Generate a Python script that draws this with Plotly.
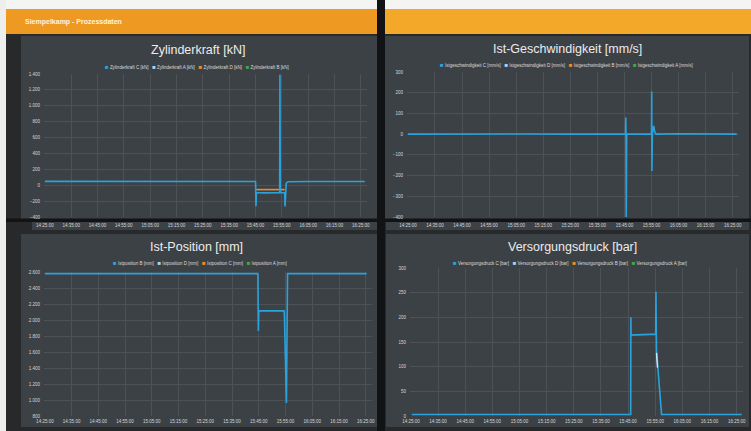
import plotly.graph_objects as go

W, H = 751, 431
DAY = "2017-03-14 "

# ---------------- data ----------------
# Zylinderkraft [kN]
kraft_c_t = ["14:25:00", "14:40:00", "14:55:00", "15:10:00", "15:25:00", "15:40:00",
             "15:45:00", "15:45:10", "15:45:20", "15:48:00", "15:51:00", "15:54:10",
             "15:54:16", "15:54:24", "15:56:05", "15:56:12", "15:56:40", "15:57:20",
             "16:05:00", "16:15:00", "16:26:30"]
kraft_c = [48, 46, 50, 47, 49, 47, 46, -265, -92, -96, -92, -95, 1390, -94, -95, -268,
           25, 44, 47, 48, 47]
kraft_d_t = ["15:45:15", "15:50:00", "15:56:05"]
kraft_d = [-55, -57, -55]

# Ist-Geschwindigkeit [mm/s]
speed_c_t = ["14:25:00", "14:40:00", "14:55:00", "15:10:00", "15:25:00", "15:45:25",
             "15:45:30", "15:45:35", "15:45:40", "15:45:50", "15:55:00", "15:55:05",
             "15:55:10", "15:55:20", "15:55:50", "15:56:10", "15:56:40", "16:05:00",
             "16:26:30"]
speed_c = [0, 1, -1, 1, 0, 0, 80, -12, -440, 0, 0, 206, -178, 5, 40, 12, 0, 2, 0]

# Ist-Position [mm]
pos_c_t = ["14:25:00", "14:55:00", "15:25:00", "15:44:30", "15:44:40", "15:44:50",
           "15:45:00", "15:54:25", "15:54:34", "15:55:20", "15:55:38", "15:55:45",
           "16:05:00", "16:25:20"]
pos_c = [2580, 2580, 2580, 2580, 2560, 1864, 2114, 2114, 2080, 963, 2050, 2580, 2580, 2580]

# Versorgungsdruck [bar]
druck_c_t = ["14:25:20", "14:45:00", "15:05:00", "15:25:00", "15:45:58", "15:46:02",
             "15:46:06", "15:55:10", "15:55:16", "15:55:28", "15:56:00", "15:56:40",
             "15:57:20", "16:10:00", "16:26:50"]
druck_c = [3, 3, 3, 3, 3, 200, 164, 166, 252, 134, 100, 40, 3, 3, 3]
druck_d_t = ["15:55:28", "15:55:50"]
druck_d = [128, 98]

titles = ["Zylinderkraft [kN]", "Ist-Geschwindigkeit [mm/s]",
          "Ist-Position [mm]", "Versorgungsdruck [bar]"]
legend_labels = [
    ["Zylinderkraft C [kN]", "Zylinderkraft A [kN]", "Zylinderkraft D [kN]", "Zylinderkraft B [kN]"],
    ["Istgeschwindigkeit C [mm/s]", "Istgeschwindigkeit D [mm/s]", "Istgeschwindigkeit B [mm/s]", "Istgeschwindigkeit A [mm/s]"],
    ["Istposition B [mm]", "Istposition D [mm]", "Istposition C [mm]", "Istposition A [mm]"],
    ["Versorgungsdruck C [bar]", "Versorgungsdruck D [bar]", "Versorgungsdruck B [bar]", "Versorgungsdruck A [bar]"],
]
header_text = "Siempelkamp - Prozessdaten"

# ---------------- style ----------------
BLUE = "#2aa3dd"
LIGHT = "#a9d3ef"
ORANGE = "#ef8c22"
GREEN = "#3dac47"
box_colors = [BLUE, LIGHT, ORANGE, GREEN]
FRAME = "#27292b"
CARD = "#3c4146"
SEAM = "#121314"
GRID = "#4d5257"
TXT = "#d4d7da"
FONT = "Liberation Sans, Arial, sans-serif"


def fx(p):
    return p / W


def fy(p):
    return 1 - p / H


panels = [
    dict(x=(44, 367), y=(74, 217), yr=[-400, 1400], dt=200, tx=198, ty=50, lx=197, ly=67, st=4),
    dict(x=(407, 739), y=(72, 217), yr=[-400, 300], dt=100, tx=567, ty=49, lx=566, ly=65, st=4),
    dict(x=(44, 372), y=(272, 416), yr=[800, 2600], dt=200, tx=196, ty=247, lx=200, ly=263, st=1),
    dict(x=(410, 743), y=(268, 416), yr=[0, 300], dt=50, tx=572, ty=247, lx=570, ly=263, st=1),
]

fig = go.Figure()


def add_line(i, t, v, color, width=1.6):
    sfx = "" if i == 0 else str(i + 1)
    fig.add_trace(go.Scatter(x=[DAY + s for s in t], y=v, mode="lines",
                             line=dict(color=color, width=width),
                             xaxis="x" + sfx, yaxis="y" + sfx, showlegend=False,
                             hoverinfo="skip"))


add_line(0, kraft_d_t, kraft_d, ORANGE, 1.6)
add_line(0, kraft_c_t, kraft_c, BLUE)
add_line(1, speed_c_t, speed_c, BLUE)
add_line(2, pos_c_t, pos_c, BLUE)
add_line(3, druck_c_t, druck_c, BLUE)
add_line(3, druck_d_t, druck_d, "#cfe8f7", 1.4)

layout = dict(
    width=W, height=H, margin=dict(l=0, r=0, t=0, b=0),
    template="none", paper_bgcolor=FRAME, plot_bgcolor=CARD,
    separators=",.", showlegend=False,
    font=dict(family=FONT, color=TXT, size=5),
)

for i, p in enumerate(panels):
    sfx = "" if i == 0 else str(i + 1)
    layout["xaxis" + sfx] = dict(
        domain=[fx(p["x"][0]), fx(p["x"][1])], anchor="y" + sfx, type="date",
        range=[DAY + "14:24:40", DAY + "16:27:20"], tick0=DAY + "14:25:00", dtick=600000,
        tickformat="%H:%M:%S", showgrid=True, gridcolor=GRID, gridwidth=1,
        zeroline=False, showline=False, ticks="", automargin=False,
        tickfont=dict(size=4.5, color=TXT), ticklabelstandoff=p["st"])
    layout["yaxis" + sfx] = dict(
        domain=[fy(p["y"][1]), fy(p["y"][0])], anchor="x" + sfx,
        range=p["yr"], tick0=0, dtick=p["dt"], tickformat=",d",
        showgrid=True, gridcolor=GRID, gridwidth=1, zeroline=False, showline=False,
        ticks="", automargin=False, tickfont=dict(size=4.5, color=TXT),
        ticklabelstandoff=3)

shapes = []


def rect(x0, y0, x1, y1, color):
    shapes.append(dict(type="rect", xref="paper", yref="paper", x0=fx(x0), x1=fx(x1),
                       y0=fy(y1), y1=fy(y0), fillcolor=color, line=dict(width=0),
                       layer="below"))


rect(0, 0, W, 9, "#f4f4f2")
rect(0, 0, 6, H, "#eeeeec")
rect(6, 9, 378, 34, "#ee9a22")
rect(383, 9, W, 34, "#f4a829")
# cards
rect(21, 36, 378, 219, CARD)
rect(384, 36, 749, 219, CARD)
rect(32, 222, 378, 230, CARD)
rect(386, 222, 749, 230, CARD)
rect(21, 234, 378, 427, CARD)
rect(386, 234, 749, 427, CARD)
# monitor seams
rect(6, 218.5, W, 222, SEAM)
rect(377, 0, 385, H, SEAM)
layout["shapes"] = shapes

ann = [dict(text="<b>" + header_text + "</b>", x=fx(23), y=fy(22), xref="paper", yref="paper",
            xanchor="left", yanchor="middle", showarrow=False,
            font=dict(size=7, color="#fff3dc", family=FONT))]

for i, p in enumerate(panels):
    ann.append(dict(text=titles[i], x=fx(p["tx"]), y=fy(p["ty"]), xref="paper", yref="paper",
                    xanchor="center", yanchor="middle", showarrow=False,
                    font=dict(size=12.5, color="#ececec", family=FONT)))
    parts = []
    for c, lab in zip(box_colors, legend_labels[i]):
        parts.append('<span style="color:%s;font-size:6px">\u25A0</span>\u00a0%s' % (c, lab))
    ann.append(dict(text="\u00a0\u00a0\u00a0".join(parts), x=fx(p["lx"]), y=fy(p["ly"]),
                    xref="paper", yref="paper", xanchor="center", yanchor="middle",
                    showarrow=False, font=dict(size=4.5, color="#dcdcdc", family=FONT)))
layout["annotations"] = ann

fig.update_layout(**layout)
fig.write_html("out.html")
